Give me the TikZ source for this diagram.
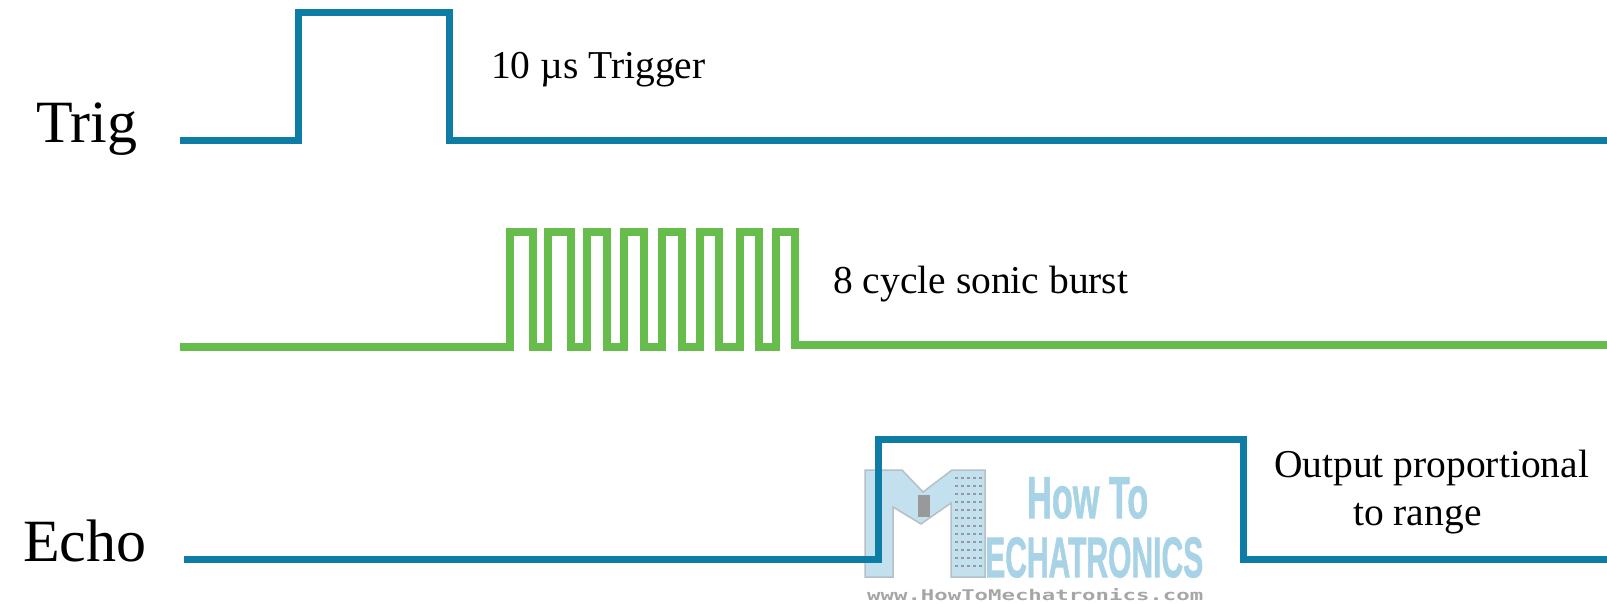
\documentclass[tikz,border=0pt]{standalone}
\usepackage{fontspec}
\setmainfont{Liberation Serif}
\newfontfamily\logofont[FakeBold=1.5]{Liberation Sans}
\newfontfamily\urlfont{DejaVu Sans Mono}
\usetikzlibrary{positioning}
\definecolor{trigblue}{HTML}{0E7DA6}
\definecolor{burstgreen}{HTML}{66BD4B}
\definecolor{logoblue}{HTML}{A8D3E6}
\definecolor{logoedge}{HTML}{B5BFC4}
\tikzset{
  signal/.style = {line width = 7pt, miter limit = 10},
  big/.style = {anchor = base west, inner sep = 0pt, font = \fontsize{60}{60}\selectfont},
  small/.style = {anchor = base west, inner sep = 0pt, font = \fontsize{39.5}{39.5}\selectfont},
  logotext/.style = {anchor = north west, inner sep = 0pt, text = logoblue}
}

\begin{document}
\begin{tikzpicture}[x = 1pt, y = -1pt]
\useasboundingbox (0,0) rectangle (1607,604);
% logo
\fill [logoblue!70, draw = logoedge, line width = 1.5pt] (865,470) -- (902,470) -- (923,492) -- (952,470) -- (985,470) -- (985,577) -- (951,577) -- (951,503) -- (921,524) -- (893,507) -- (893,577) -- (865,577) -- cycle;
\fill [gray!80] (918,495) rectangle (930,517);
\foreach \rowy in {478,486,...,570} {
  \draw [logoedge!80!black, line width = 1.5pt, dash pattern = on 3pt off 3pt] (955,\rowy) -- (982,\rowy);
}
\node [logotext] (howto) at (1027,477) {\resizebox{121pt}{41pt}{\logofont\bfseries How To}};
\node [logotext] (mech) at (985,537) {\resizebox{218pt}{40pt}{\logofont\bfseries ECHATRONICS}};
\node [logotext, text = gray!70] (url) at (867,588) {\resizebox{336pt}{12pt}{\urlfont\bfseries www.HowToMechatronics.com}};
% signals
\draw [signal, trigblue] (180,141) -- (298,141) -- (298,13) -- (449,13) -- (449,141) -- (1607,141);
\draw [signal, burstgreen, line width = 8pt] (180,347) -- (510,347) -- (510,232) -- (533,232) -- (533,347) -- (548,347) -- (548,232) -- (571,232) -- (571,347) -- (587,347) -- (587,232) -- (607,232) -- (607,347) -- (624,347) -- (624,232) -- (644,232) -- (644,347) -- (662,347) -- (662,232) -- (682,232) -- (682,347) -- (700,347) -- (700,232) -- (719,232) -- (719,347) -- (740,347) -- (740,232) -- (759,232) -- (759,347) -- (776,347) -- (776,232) -- (795,232) -- (795,345) -- (1607,345);
\draw [signal, trigblue] (184,559) -- (878,559) -- (878,439) -- (1243,439) -- (1243,559) -- (1607,559);
% labels
\node [big] (trig) at (36,143) {Trig};
\node [big] (echo) at (23,561) {Echo};
\node [small] (trigger) at (491,79) {10 µs Trigger};
\node [small] (burst) at (833,294) {8 cycle sonic burst};
\node [small] (output) at (1274,477) {Output proportional};
\node [small] (range) at (1353,525) {to range};
\end{tikzpicture}
\end{document}
